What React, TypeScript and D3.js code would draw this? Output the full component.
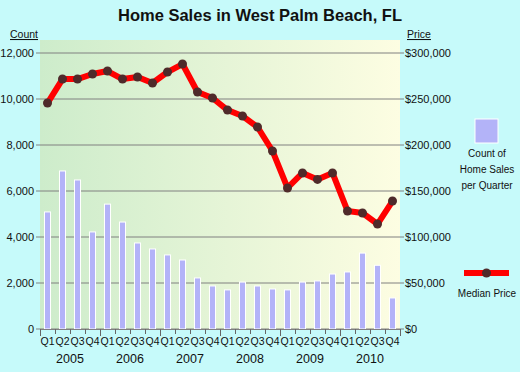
import * as d3 from "d3";

const years = ["2005", "2006", "2007", "2008", "2009", "2010"];
const quarters = ["Q1", "Q2", "Q3", "Q4"];
const salesCount = [
  5090, 6870, 6480, 4220, 5430, 4650, 3740, 3480, 3220, 3000, 2220, 1870,
  1700, 2040, 1870, 1740, 1700, 2040, 2090, 2390, 2480, 3300, 2770, 1350,
];
const medianPrice = [
  245600, 271700, 271700, 277200, 280400, 271700, 273900, 267400, 279300,
  288000, 257600, 251100, 238000, 231500, 219600, 193500, 153300, 169600,
  162600, 169600, 128300, 126100, 114100, 139100,
];
const countTicks = [0, 2000, 4000, 6000, 8000, 10000, 12000];
const priceTicks = [0, 50000, 100000, 150000, 200000, 250000, 300000];
const legendLines = ["Count of", "Home Sales", "per Quarter"];

const W = 520;
const H = 372;
const left = 40;
const right = 400;
const top = 40;
const bottom = 329;
const FONT = "Arial, 'Liberation Sans', sans-serif";

export default function App() {
  const labels = years.flatMap((y) => quarters.map((q) => `${y} ${q}`));
  const x = d3.scaleBand().domain(labels).range([left, right]).padding(0);
  const yCount = d3.scaleLinear().domain([0, 12000]).range([bottom, 53]);
  const yPrice = d3.scaleLinear().domain([0, 300000]).range([bottom, 53]);
  const cx = (i: number) => x(labels[i])! + x.bandwidth() / 2;
  const line = d3
    .line<number>()
    .x((_, i) => cx(i))
    .y((d) => yPrice(d));
  const barW = 6;
  const yearW = x.bandwidth() * 4;

  return (
    <svg
      width={W}
      height={H}
      style={{ position: "absolute", left: 0, top: 0, background: "#c6fafa" }}
      fontFamily={FONT}
    >
      <defs>
        <linearGradient id="bg" x1="0" x2="1" y1="0" y2="0">
          <stop offset="0%" stopColor="#cdeccb" />
          <stop offset="100%" stopColor="#fdfde2" />
        </linearGradient>
      </defs>
      <rect width={W} height={H} fill="#c6fafa" />
      <text x={260} y={21} textAnchor="middle" fontSize={16.5} fontWeight="bold" fill="#111">
        Home Sales in West Palm Beach, FL
      </text>
      <text x={10} y={38} fontSize={10.5} textDecoration="underline" fill="#111">
        Count
      </text>
      <text x={407} y={38} fontSize={10.5} textDecoration="underline" fill="#111">
        Price
      </text>
      <rect x={left} y={top} width={right - left} height={bottom - top} fill="url(#bg)" />

      {countTicks.map((t) => (
        <g key={t}>
          <line x1={36} x2={right} y1={yCount(t)} y2={yCount(t)} stroke="#808080" />
          <text x={34} y={yCount(t)} dy="0.35em" textAnchor="end" fontSize={11} fill="#111">
            {d3.format(",")(t)}
          </text>
        </g>
      ))}
      {priceTicks.map((t) => (
        <g key={t}>
          <line x1={right} x2={404} y1={yPrice(t)} y2={yPrice(t)} stroke="#808080" />
          <text x={405} y={yPrice(t)} dy="0.35em" fontSize={11} fill="#111">
            {d3.format("$,")(t)}
          </text>
        </g>
      ))}

      {salesCount.map((v, i) => (
        <rect
          key={i}
          x={cx(i) - barW / 2}
          y={yCount(v)}
          width={barW}
          height={bottom - yCount(v)}
          fill="#b3b3f8"
          stroke="#fff"
          strokeWidth={1}
        />
      ))}

      <path
        d={line(medianPrice) ?? ""}
        fill="none"
        stroke="#ff0000"
        strokeWidth={6}
        strokeLinejoin="round"
        strokeLinecap="round"
      />
      {medianPrice.map((v, i) => (
        <circle key={i} cx={cx(i)} cy={yPrice(v)} r={4.5} fill="#4f2a2a" />
      ))}

      <line x1={left} x2={right} y1={bottom + 0.5} y2={bottom + 0.5} stroke="#808080" />
      {d3.range(25).map((i) => {
        const xx = left + i * x.bandwidth() + 0.5;
        return (
          <line key={i} x1={xx} x2={xx} y1={bottom} y2={i % 4 === 0 ? 336 : 334} stroke="#666" />
        );
      })}
      {labels.map((l, i) => (
        <text key={l} x={cx(i)} y={345} textAnchor="middle" fontSize={10.5} fill="#111">
          {quarters[i % 4]}
        </text>
      ))}
      {years.map((y, i) => (
        <text key={y} x={left + yearW * i + yearW / 2} y={363} textAnchor="middle" fontSize={12.5} fill="#111">
          {y}
        </text>
      ))}

      <rect x={475} y={119} width={23} height={24} fill="#b3b3f8" stroke="#fff" strokeWidth={1} />
      {legendLines.map((t, i) => (
        <text key={t} x={487} y={157 + i * 16} textAnchor="middle" fontSize={10} fill="#111">
          {t}
        </text>
      ))}
      <line x1={464} x2={509} y1={273} y2={273} stroke="#ff0000" strokeWidth={6} />
      <circle cx={486.5} cy={273} r={4.5} fill="#4f2a2a" />
      <text x={487} y={297} textAnchor="middle" fontSize={10} fill="#111">
        Median Price
      </text>
    </svg>
  );
}
